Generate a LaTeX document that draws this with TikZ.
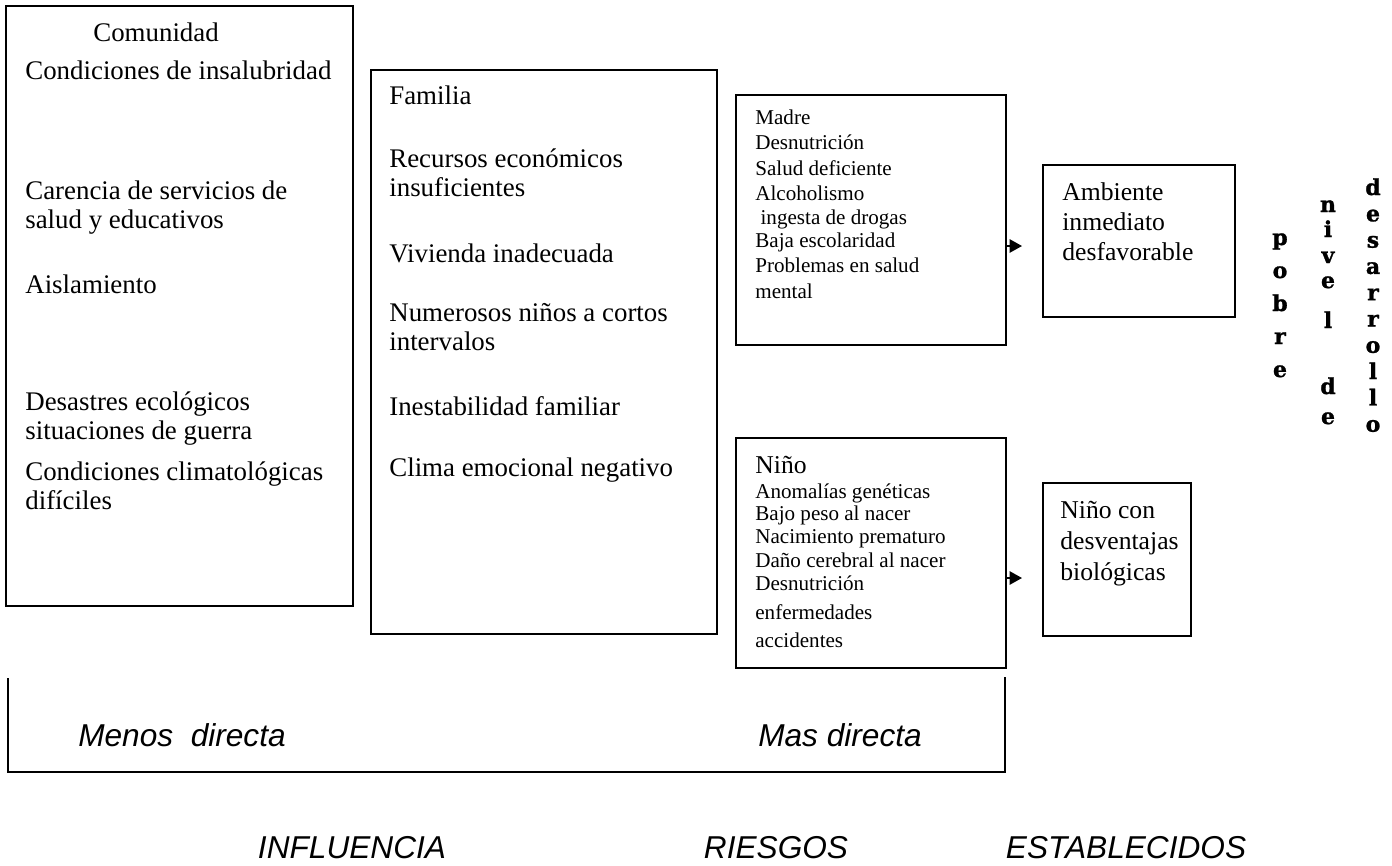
\documentclass[tikz,border=0pt]{standalone}
\usepackage{fontspec}
\setmainfont{Liberation Serif}
\setsansfont{Liberation Sans}
\newfontfamily\heavyfont[FakeBold=1.2]{DejaVu Serif Bold}
\usetikzlibrary{arrows.meta,positioning}

\tikzset{
  box/.style={draw=black, line width=1.1pt, rectangle, inner sep=0pt, anchor=north west},
  bigtext/.style={anchor=base west, inner sep=0pt, font=\fontsize{15.3}{18}\selectfont},
  smalltext/.style={anchor=base west, inner sep=0pt, font=\fontsize{12}{14}\selectfont},
  midtext/.style={anchor=base west, inner sep=0pt, font=\fontsize{14.6}{17}\selectfont},
  slanttext/.style={inner sep=0pt, font=\sffamily\itshape\fontsize{18}{21}\selectfont},
  letter/.style={anchor=base, inner sep=0pt, font=\heavyfont\fontsize{12.5}{14}\selectfont},
  pointer/.style={line width=1.1pt, -{Triangle[length=7pt,width=7.5pt]}},
}

\begin{document}
\begin{tikzpicture}[x=0.02cm, y=-0.02cm]
  \useasboundingbox (0,0) rectangle (1392,865);

  % boxes
  \node[box, minimum width=6.94cm, minimum height=12cm] (comunidad) at (5,5) {};
  \node[box, minimum width=6.92cm, minimum height=11.28cm] (familia) at (370,69) {};
  \node[box, minimum width=5.4cm, minimum height=5cm] (madre) at (735,94) {};
  \node[box, minimum width=3.84cm, minimum height=3.04cm] (ambiente) at (1042,164) {};
  \node[box, minimum width=5.4cm, minimum height=4.6cm] (nino) at (735,437) {};
  \node[box, minimum width=2.96cm, minimum height=3.06cm] (ninocon) at (1042,482) {};

  % comunidad
  \node[bigtext] (comtitle) at (93,42) {Comunidad};
  \foreach \t/\y [count=\i] in {Condiciones de insalubridad/80, Carencia de servicios de/199,
      salud y educativos/228, Aislamiento/293, Desastres ecológicos/410,
      situaciones de guerra/439, Condiciones climatológicas/480, difíciles/509}
    \node[bigtext] (com\i) at (25,\y) {\t};

  % familia
  \foreach \t/\y [count=\i] in {Familia/105, Recursos económicos/167, insuficientes/196,
      Vivienda inadecuada/262, Numerosos niños a cortos/321, intervalos/350,
      Inestabilidad familiar/415, Clima emocional negativo/476}
    \node[bigtext] (fam\i) at (389,\y) {\t};

  % madre
  \foreach \t/\y [count=\i] in {Madre/125, Desnutrición/149, Salud deficiente/175,
      Alcoholismo/200, \ ingesta de drogas/224, Baja escolaridad/247,
      Problemas en salud/272, mental/298}
    \node[smalltext] (mad\i) at (755,\y) {\t};

  % nino
  \node[midtext] (ninotitle) at (755,473) {Niño};
  \foreach \t/\y [count=\i] in {Anomalías genéticas/498, Bajo peso al nacer/520,
      Nacimiento prematuro/543, Daño cerebral al nacer/567, Desnutrición/590,
      enfermedades/619, accidentes/647}
    \node[smalltext] (nin\i) at (755,\y) {\t};

  % resultados
  \foreach \t/\y [count=\i] in {Ambiente/200, inmediato/230, desfavorable/260}
    \node[midtext] (amb\i) at (1062,\y) {\t};
  \foreach \t/\y [count=\i] in {Niño con/518, desventajas/549, biológicas/580}
    \node[midtext] (con\i) at (1060,\y) {\t};

  % flechas
  \coordinate (tipA) at (1022,246);
  \coordinate (tipB) at (1022,578);
  \draw[pointer] (madre.east |- tipA) -- (tipA);
  \draw[pointer] (nino.east |- tipB) -- (tipB);

  % texto vertical
  \foreach \ch [count=\i] in {p,o,b,r,e}
    \node[letter] (pob\i) at (1280,{245+33*(\i-1)}) {\ch};
  \foreach \ch/\y [count=\i] in {n/212,i/237,v/263,e/288,l/328,d/394,e/424}
    \node[letter] (niv\i) at (1328,\y) {\ch};
  \foreach \ch [count=\i] in {d,e,s,a,r,r,o,l,l,o}
    \node[letter] (des\i) at (1373,{195+26.3*(\i-1)}) {\ch};

  % corchete inferior
  \coordinate (brA) at (8,678);
  \coordinate (brB) at (8,772);
  \coordinate (brC) at (1005,772);
  \coordinate (brD) at (1005,677);
  \draw[line width=1pt] (brA) -- (brB) -- (brC) -- (brD);
  \node[slanttext] (menos) at (182,735) {Menos\ \ directa};
  \node[slanttext] (mas) at (840,735) {Mas directa};

  \node[slanttext] (influencia) at (352,848) {INFLUENCIA};
  \node[slanttext] (riesgos) at (776,848) {RIESGOS};
  \node[slanttext] (establecidos) at (1126,848) {ESTABLECIDOS};
\end{tikzpicture}
\end{document}
